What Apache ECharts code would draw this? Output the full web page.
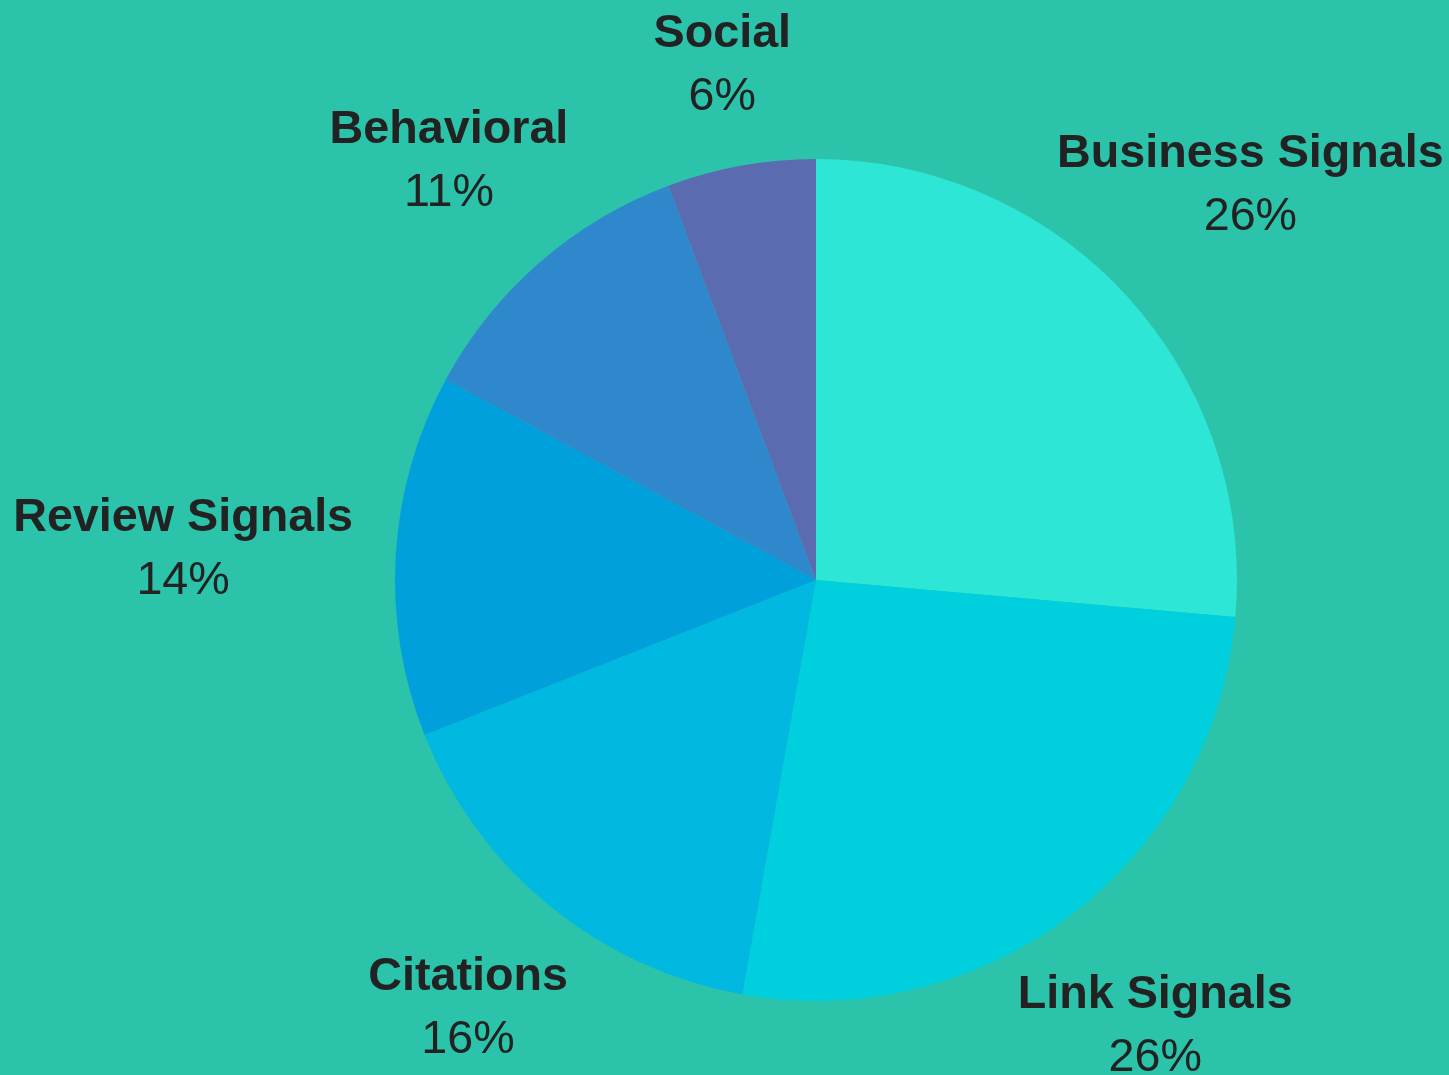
<!DOCTYPE html>
<html>
<head>
<meta charset="utf-8">
<script src="https://cdn.jsdelivr.net/npm/echarts@6/dist/echarts.min.js"></script>
<style>
html,body{margin:0;padding:0;background:#2bc4ab;}
#chart{width:1449px;height:1075px;}
</style>
</head>
<body>
<div id="chart"></div>
<script>
const categories = ['Business Signals', 'Link Signals', 'Citations', 'Review Signals', 'Behavioral', 'Social'];
const values = [26.4, 26.4, 16.2, 13.9, 11.4, 5.7];
const colors = ['#2ee6d6', '#00d0de', '#00b8e0', '#00a0dc', '#3088cc', '#5b6bb0'];

// label layout (not data): distance from pie centre and small vertical nudge
const labelDist = [589, 558, 550, 634, 559, 526];
const labelDy = [3, 4, 3, 7, 3, 3];
const CX = 816, CY = 580, R = 421;

const total = values.reduce((a, b) => a + b, 0);
function midAngle(i) {
  let before = 0;
  for (let k = 0; k < i; k++) before += values[k];
  return ((before + values[i] / 2) / total) * Math.PI * 2;
}

const chart = echarts.init(document.getElementById('chart'));
chart.setOption({
  backgroundColor: '#2bc4ab',
  animation: false,
  series: [{
    type: 'pie',
    center: [CX, CY],
    radius: R,
    startAngle: 90,
    clockwise: true,
    silent: true,
    data: categories.map((c, i) => ({ name: c, value: values[i], itemStyle: { color: colors[i] } })),
    itemStyle: { borderWidth: 0 },
    label: {
      show: true,
      position: 'outside',
      overflow: 'none',
      formatter: p => '{n|' + p.name + '}\n{p|' + Math.round(p.percent) + '%}',
      rich: {
        n: { fontFamily: 'Liberation Sans', fontWeight: 'bold', fontSize: 46.7, color: '#222222', lineHeight: 63, align: 'center' },
        p: { fontFamily: 'Liberation Sans', fontWeight: 'normal', fontSize: 46.7, color: '#222222', lineHeight: 63, align: 'center' }
      }
    },
    labelLine: { show: false },
    labelLayout: function (params) {
      const i = params.dataIndex;
      const a = midAngle(i);
      return {
        x: CX + labelDist[i] * Math.sin(a),
        y: CY - labelDist[i] * Math.cos(a) + labelDy[i],
        width: 500,
        align: 'center',
        verticalAlign: 'middle'
      };
    }
  }]
});
</script>
</body>
</html>
